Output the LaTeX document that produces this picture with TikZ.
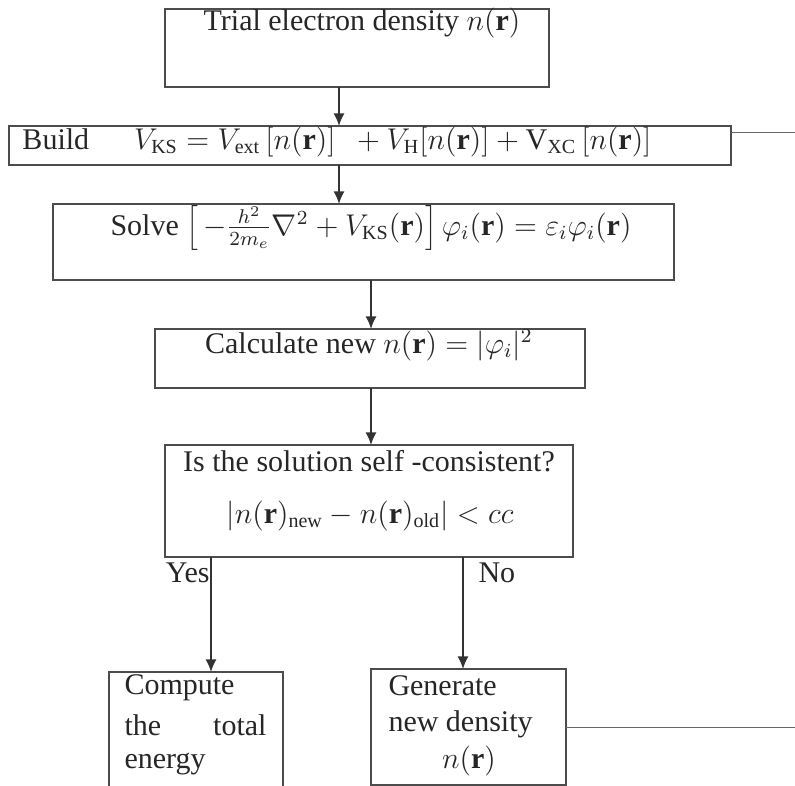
\documentclass[tikz,border=0pt]{standalone}
\usepackage{fontspec}
\setmainfont{Liberation Serif}
\usetikzlibrary{arrows,arrows.meta}

\begin{document}
\begin{tikzpicture}[x=0.4pt,y=-0.4pt,
  box/.style={draw=black!70,line width=0.5pt,inner sep=0pt,outer sep=0pt},
  txt/.style={text=black!85,font=\fontsize{12}{14}\selectfont,inner sep=0pt},
  flow/.style={draw=black!80,line width=0.7pt,-{Latex[length=5pt,width=4.4pt]}},
  back/.style={draw=black!60,line width=0.4pt}]
\useasboundingbox (0,0) rectangle (795,786);
\clip (0,0) rectangle (795,786);
\node[box,minimum width=153.6pt,minimum height=31.2pt] (trial) at (357,48) {};
\node[box,minimum width=288.8pt,minimum height=15.6pt] (build) at (370,145.5) {};
\node[box,minimum width=248.4pt,minimum height=30.4pt] (solve) at (363.5,242) {};
\node[box,minimum width=172pt,minimum height=23.6pt] (calc) at (370,358.5) {};
\node[box,minimum width=163.2pt,minimum height=44.8pt] (check) at (369,501) {};
\node[box,minimum width=69.6pt,minimum height=52pt] (energy) at (196,737) {};
\node[box,minimum width=78pt,minimum height=46.4pt] (newdens) at (468.5,727) {};
\node[txt] (ttrial) at (362,23) {Trial electron density $n(\mathbf{r})$};
\node[txt,anchor=west] (tbuild) at (22,142) {Build\quad\ \ $V_{\mathrm{KS}} = V_{\mathrm{ext}}\,[n(\mathbf{r})]\ \ + V_{\mathrm{H}}[n(\mathbf{r})] + \mathrm{V}_{\mathrm{XC}}\,[n(\mathbf{r})]$};
\node[txt] (tsolve) at (371,228) {Solve $\left[\,-\frac{h^2}{2m_e}\nabla^2 + V_{\mathrm{KS}}(\mathbf{r})\right]\varphi_i(\mathbf{r}) = \varepsilon_i\varphi_i(\mathbf{r})$};
\node[txt] (tcalc) at (369,345) {Calculate new $n(\mathbf{r}) = |\varphi_i|^2$};
\node[txt] (tcheck1) at (369,461) {Is the solution self -consistent?};
\node[txt] (tcheck2) at (370,516) {$|n(\mathbf{r})_{\mathrm{new}} - n(\mathbf{r})_{\mathrm{old}}| < cc$};
\node[txt,anchor=east] (yes) at (210,573) {Yes};
\node[txt,anchor=west] (no) at (478,573) {No};
\node[txt,anchor=west] (e1) at (124,688) {Compute};
\node[txt,anchor=west] (e2) at (124,725) {the};
\node[txt,anchor=east] (e3) at (267,725) {total};
\node[txt,anchor=west] (e4) at (124,764) {energy};
\node[txt,anchor=west] (g1) at (388,686) {Generate};
\node[txt,anchor=west] (g2) at (388,724) {new density};
\node[txt] (g3) at (469,761) {$n(\mathbf{r})$};
\coordinate (xa) at (339,0);
\coordinate (xb) at (371,0);
\coordinate (xy) at (211,0);
\coordinate (xn) at (463,0);
\coordinate (fb) at (795,133);
\draw[flow] (trial.south -| xa) -- (build.north -| xa);
\draw[flow] (build.south -| xa) -- (solve.north -| xa);
\draw[flow] (solve.south -| xb) -- (calc.north -| xb);
\draw[flow] (calc.south -| xb) -- (check.north -| xb);
\draw[flow] (check.south -| xy) -- (energy.north -| xy);
\draw[flow] (check.south -| xn) -- (newdens.north -| xn);
\draw[back] (newdens.east) -- (newdens.east -| fb) -- (fb) -- (build.east |- fb);
\end{tikzpicture}
\end{document}
